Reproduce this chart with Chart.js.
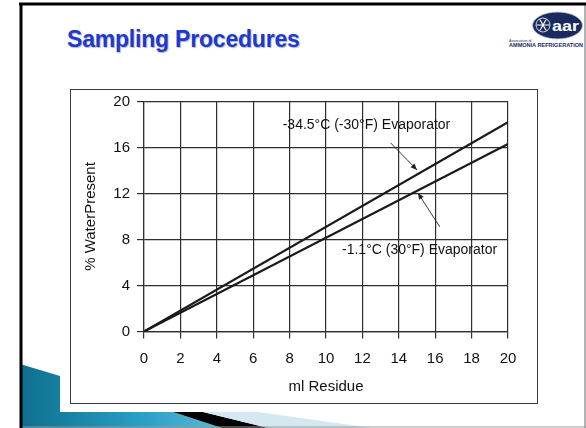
<!DOCTYPE html>
<html>
<head>
<meta charset="utf-8">
<script src="https://cdn.jsdelivr.net/npm/chart.js@4.4.1/dist/chart.umd.min.js"></script>
<style>
  html,body{margin:0;padding:0;background:#fff;}
  #slide{position:relative;width:586px;height:428px;overflow:hidden;background:#fff;font-family:"Liberation Sans",Arial,Helvetica,sans-serif;}
  #bg{position:absolute;left:0;top:0;}
  #content{position:absolute;left:60px;top:6px;width:524px;height:406px;background:#fff;}
  #title{position:absolute;left:67px;top:26px;font-size:23px;font-weight:bold;color:#1c3ad2;letter-spacing:-0.2px;text-shadow:1px 1px 1px rgba(0,0,40,0.3);white-space:nowrap;}
  #box{position:absolute;left:70px;top:89px;width:466px;height:313px;border:1px solid #3a3a3a;background:#fff;}
  #c{position:absolute;left:0;top:0;}
</style>
</head>
<body>
<div id="slide">
  <svg id="bg" width="586" height="428">
    <defs>
      <linearGradient id="teal" x1="0" y1="0" x2="1" y2="0">
        <stop offset="0" stop-color="#0d6f8e"/>
        <stop offset="0.6" stop-color="#2a9fc4"/>
        <stop offset="1" stop-color="#5ab8d8"/>
      </linearGradient>
    </defs>
    <polygon points="20,364 60,376 60,412 173,412 222,428 20,428" fill="url(#teal)"/>
    <polygon points="173,412 203,412 268,428 222,428" fill="#050505"/>
    <polygon points="203,412 258,412 372,428 268,428" fill="#d3e8f0"/>
    <line x1="585" y1="4" x2="585" y2="428" stroke="#9a9a9a" stroke-width="1.5"/>
    <line x1="20" y1="427" x2="586" y2="427" stroke="#9a9a9a" stroke-width="1"/>
  </svg>
  <div id="content"></div>
  <svg style="position:absolute;left:0;top:0" width="586" height="428">
    <line x1="19" y1="4" x2="586" y2="4" stroke="#000" stroke-width="3"/>
    <line x1="21" y1="3" x2="21" y2="428" stroke="#000" stroke-width="3"/>
    <!-- logo -->
    <ellipse cx="557.5" cy="25.5" rx="25" ry="13.5" fill="#1b2a5e" stroke="#c8d0e0" stroke-width="0.8"/>
    <g stroke="#fff" stroke-width="1.2" stroke-linecap="round">
      <line x1="537" y1="25" x2="549" y2="25"/>
      <line x1="540" y1="19.8" x2="546" y2="30.2"/>
      <line x1="540" y1="30.2" x2="546" y2="19.8"/>
    </g>
    <circle cx="543" cy="25" r="7" fill="none" stroke="#fff" stroke-width="0.8"/>
    <text x="552" y="30.5" font-family="Liberation Sans, Arial" font-weight="bold" font-size="15" fill="#fff" textLength="27" lengthAdjust="spacingAndGlyphs">aar</text>
    <text x="509" y="41.5" font-family="Liberation Sans, Arial" font-size="3.6" fill="#1b2a5e">Association of</text>
    <text x="509" y="47" font-family="Liberation Sans, Arial" font-weight="bold" font-size="5.6" fill="#1b2a5e" textLength="74" lengthAdjust="spacingAndGlyphs">AMMONIA REFRIGERATION</text>
  </svg>
  <div id="title">Sampling Procedures</div>
  <div id="box"><canvas id="c" width="466" height="313"></canvas></div>
</div>
<script>
// ---- data ----
const mlResidue = [0, 20];
const evapMinus30F = [0, 18.2];   // -34.5°C (-30°F) Evaporator
const evap30F = [0, 16.3];        // -1.1°C (30°F) Evaporator
const xTicks = [0, 2, 4, 6, 8, 10, 12, 14, 16, 18, 20];
const yTicks = [0, 4, 8, 12, 16, 20];
const labelUpper = "-34.5°C (-30°F) Evaporator";
const labelLower = "-1.1°C (30°F) Evaporator";
// annotation anchors in data units
const notes = [
  {text: labelUpper, x: 7.62, y: 17.95, from: [13.55, 16.4], to: [15.0, 14.05]},
  {text: labelLower, x: 10.88, y: 7.05, from: [16.25, 9.1], to: [15.05, 12.05]}
];

const FONT = "'Liberation Sans', Arial, Helvetica, sans-serif";

const annot = {
  id: 'annot',
  afterDatasetsDraw(chart) {
    const {ctx, scales: {x, y}} = chart;
    ctx.save();
    ctx.font = "14px " + FONT;
    ctx.textBaseline = 'middle';
    ctx.textAlign = 'left';
    notes.forEach(n => {
      ctx.fillStyle = '#111';
      ctx.fillText(n.text, x.getPixelForValue(n.x), y.getPixelForValue(n.y));
      const x1 = x.getPixelForValue(n.from[0]), y1 = y.getPixelForValue(n.from[1]);
      const x2 = x.getPixelForValue(n.to[0]), y2 = y.getPixelForValue(n.to[1]);
      ctx.strokeStyle = '#222';
      ctx.lineWidth = 0.9;
      ctx.beginPath(); ctx.moveTo(x1, y1); ctx.lineTo(x2, y2); ctx.stroke();
      const a = Math.atan2(y2 - y1, x2 - x1), L = 7, w = 0.4;
      ctx.beginPath();
      ctx.moveTo(x2, y2);
      ctx.lineTo(x2 - L * Math.cos(a - w), y2 - L * Math.sin(a - w));
      ctx.lineTo(x2 - L * Math.cos(a + w), y2 - L * Math.sin(a + w));
      ctx.closePath();
      ctx.fillStyle = '#222';
      ctx.fill();
    });
    ctx.restore();
  }
};

new Chart(document.getElementById('c'), {
  type: 'scatter',
  data: {
    datasets: [
      {label: labelUpper, data: mlResidue.map((v, i) => ({x: v, y: evapMinus30F[i]})), showLine: true,
       borderColor: '#1a1a1a', borderWidth: 2.2, pointRadius: 0, fill: false},
      {label: labelLower, data: mlResidue.map((v, i) => ({x: v, y: evap30F[i]})), showLine: true,
       borderColor: '#1a1a1a', borderWidth: 2.2, pointRadius: 0, fill: false}
    ]
  },
  options: {
    responsive: false,
    devicePixelRatio: 1,
    animation: false,
    layout: {padding: {left: 0, right: 29, top: 11.5, bottom: 0}},
    plugins: {legend: {display: false}, tooltip: {enabled: false}},
    scales: {
      x: {
        type: 'linear', min: 0, max: 20,
        afterBuildTicks: s => { s.ticks = xTicks.map(v => ({value: v})); },
        afterFit: s => { s.height = 71.5; s.paddingLeft = 0; s.paddingRight = 0; s.paddingTop = 0; s.paddingBottom = 0; },
        grid: {color: '#2e2e2e', lineWidth: 1.2, tickLength: 7, tickColor: '#2e2e2e', tickWidth: 1.2},
        border: {color: '#2e2e2e', width: 1.2},
        ticks: {color: '#111', font: {family: FONT, size: 15}, padding: 11, maxRotation: 0, autoSkip: false},
        title: {display: true, text: 'ml Residue', color: '#111', font: {family: FONT, size: 15}, padding: {top: 0, bottom: 7}}
      },
      y: {
        type: 'linear', min: 0, max: 20,
        afterBuildTicks: s => { s.ticks = yTicks.map(v => ({value: v})); },
        afterFit: s => { s.width = 73; s.paddingTop = 0; s.paddingBottom = 0; s.paddingLeft = 0; s.paddingRight = 0; },
        grid: {color: '#2e2e2e', lineWidth: 1.2, tickLength: 7, tickColor: '#2e2e2e', tickWidth: 1.2},
        border: {color: '#2e2e2e', width: 1.2},
        ticks: {color: '#111', font: {family: FONT, size: 15}, padding: 7, autoSkip: false},
        title: {display: true, text: '% WaterPresent', color: '#111', font: {family: FONT, size: 15}, padding: {top: 11, bottom: 0}}
      }
    }
  },
  plugins: [annot]
});
</script>
</body>
</html>
